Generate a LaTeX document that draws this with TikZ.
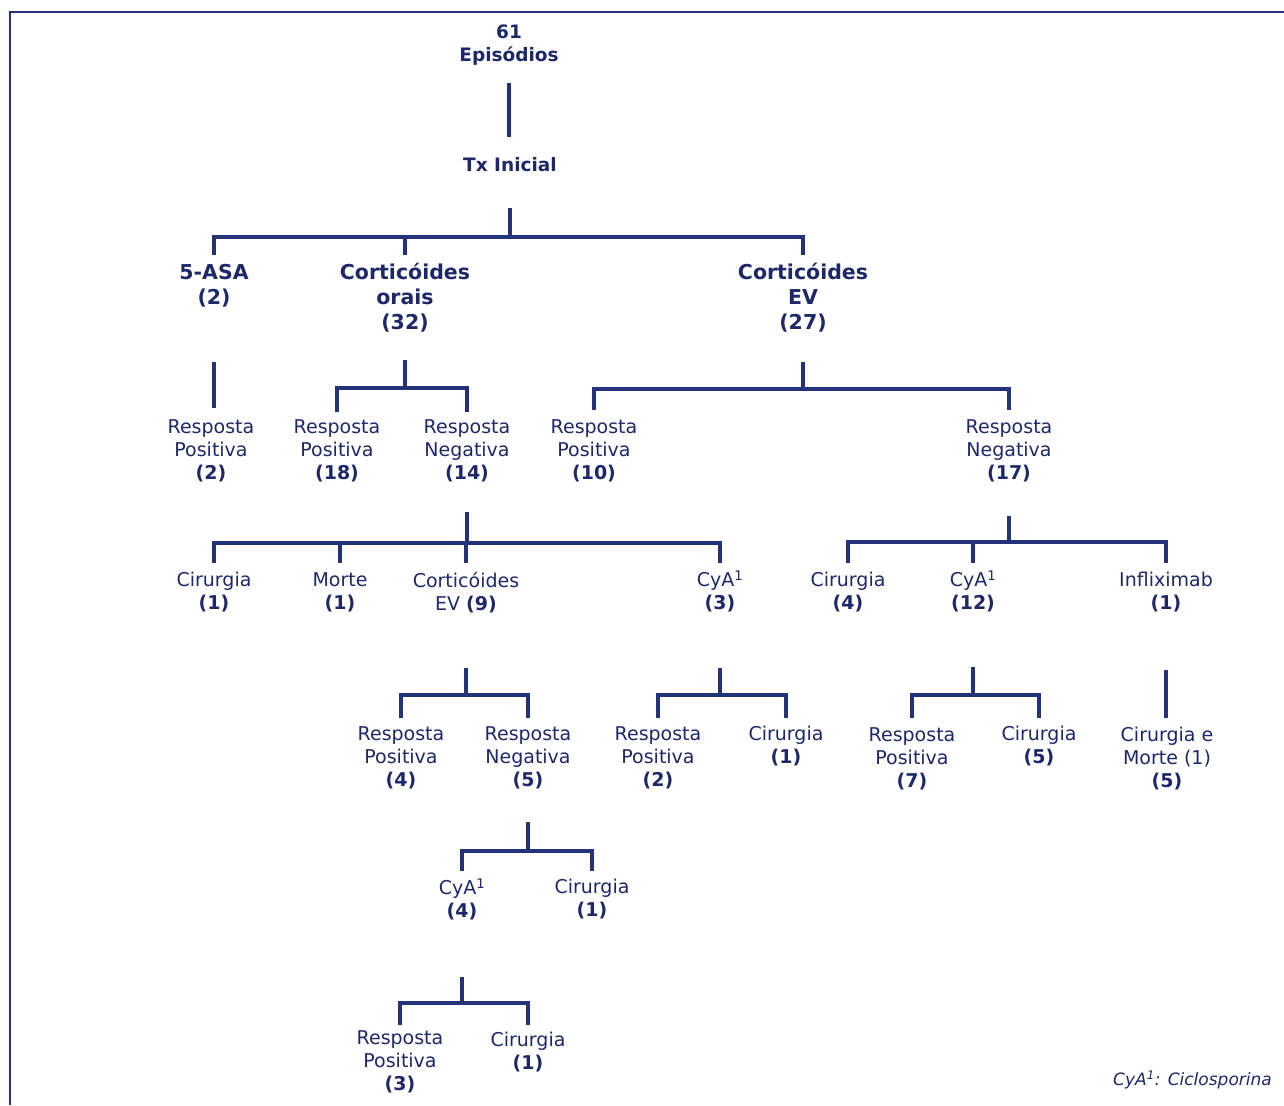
\documentclass[tikz,border=0pt]{standalone}
\usepackage{fontspec}
\setmainfont{DejaVu Sans}
\definecolor{navy}{RGB}{30,40,104}
\definecolor{linec}{RGB}{36,50,122}
\newcommand\mystem[3]{\draw[conn] (#1 |- #2) -- (#1 |- #3);}
\tikzset{
  txt/.style={text=navy, font=\fontsize{19}{23}\selectfont, align=center, inner sep=0pt},
  hd/.style={text=navy, font=\bfseries\fontsize{20.5}{25}\selectfont, align=center, inner sep=0pt},
  hds/.style={text=navy, font=\bfseries\fontsize{18.5}{23}\selectfont, align=center, inner sep=0pt},
  conn/.style={draw=linec, line width=3.6pt, line join=miter},
  frame/.style={draw=linec, line width=2pt}
}
\begin{document}
\begin{tikzpicture}[x=1pt,y=-1pt]
\useasboundingbox[fill=white] (0,0) rectangle (1284,1105);
% frame
\coordinate (fa) at (10,1105);
\coordinate (fb) at (10,12);
\coordinate (fc) at (1284,12);
\draw[frame] (fa) -- (fb) -- (fc);
% level coordinates
\foreach \yy in {83,137,208,237,255,360,362,388,389,408,410,412,512,516,542,543,563,667,668,670,695,718,822,851,871,977,1003,1025}
  \coordinate (y\yy) at (0,\yy);
% nodes
\node[hds] (ep) at (509,45) {61\\Episódios};
\node[hds] (tx) at (510,165) {Tx Inicial};
\node[hd] (asa) at (214,286) {5-ASA\\(2)};
\node[hd] (co) at (405,298) {Corticóides\\orais\\(32)};
\node[hd] (cev) at (803,298) {Corticóides\\EV\\(27)};
\node[txt] (rp2) at (211,451) {Resposta\\Positiva\\\textbf{(2)}};
\node[txt] (rp18) at (337,451) {Resposta\\Positiva\\\textbf{(18)}};
\node[txt] (rn14) at (467,451) {Resposta\\Negativa\\\textbf{(14)}};
\node[txt] (rp10) at (594,451) {Resposta\\Positiva\\\textbf{(10)}};
\node[txt] (rn17) at (1009,451) {Resposta\\Negativa\\\textbf{(17)}};
\node[txt] (cir1) at (214,592.5) {Cirurgia\\\textbf{(1)}};
\node[txt] (mor1) at (340,592.5) {Morte\\\textbf{(1)}};
\node[txt] (cev9) at (466,592.5) {Corticóides\\EV \textbf{(9)}};
\node[txt] (cya3) at (720,592.5) {CyA\smash{\textsuperscript{1}}\\\textbf{(3)}};
\node[txt] (cir4) at (848,592.5) {Cirurgia\\\textbf{(4)}};
\node[txt] (cya12) at (973,592.5) {CyA\smash{\textsuperscript{1}}\\\textbf{(12)}};
\node[txt] (inf1) at (1166,592.5) {Infliximab\\\textbf{(1)}};
\node[txt] (rp4) at (401,758) {Resposta\\Positiva\\\textbf{(4)}};
\node[txt] (rn5) at (528,758) {Resposta\\Negativa\\\textbf{(5)}};
\node[txt] (rp2b) at (658,758) {Resposta\\Positiva\\\textbf{(2)}};
\node[txt] (cir1b) at (786,746.5) {Cirurgia\\\textbf{(1)}};
\node[txt] (rp7) at (912,759) {Resposta\\Positiva\\\textbf{(7)}};
\node[txt] (cir5) at (1039,746.5) {Cirurgia\\\textbf{(5)}};
\node[txt] (cm5) at (1167,759) {Cirurgia e\\Morte (1)\\\textbf{(5)}};
\node[txt] (cya4) at (462,900) {CyA\smash{\textsuperscript{1}}\\\textbf{(4)}};
\node[txt] (cir1c) at (592,899.5) {Cirurgia\\\textbf{(1)}};
\node[txt] (rp3) at (400,1061.5) {Resposta\\Positiva\\\textbf{(3)}};
\node[txt] (cir1d) at (528,1052.5) {Cirurgia\\\textbf{(1)}};
\node[text=navy, font=\itshape\fontsize{17}{20}\selectfont, anchor=east, inner sep=0pt] (fn) at (1272,1080) {CyA\textsuperscript{1}: Ciclosporina};
% connectors
\mystem{ep}{y83}{y137}
\mystem{tx}{y208}{y237}
\draw[conn] (asa |- y255) -- (asa |- y237) -- (cev |- y237) -- (cev |- y255);
\mystem{co}{y237}{y255}
\mystem{asa}{y362}{y408}
\mystem{co}{y360}{y388}
\draw[conn] (rp18 |- y412) -- (rp18 |- y388) -- (rn14 |- y388) -- (rn14 |- y412);
\mystem{cev}{y362}{y389}
\draw[conn] (rp10 |- y410) -- (rp10 |- y389) -- (rn17 |- y389) -- (rn17 |- y410);
\mystem{rn14}{y512}{y543}
\draw[conn] (cir1 |- y563) -- (cir1 |- y543) -- (cya3 |- y543) -- (cya3 |- y563);
\mystem{mor1}{y543}{y563}
\mystem{cev9}{y543}{y563}
\mystem{rn17}{y516}{y542}
\draw[conn] (cir4 |- y563) -- (cir4 |- y542) -- (inf1 |- y542) -- (inf1 |- y563);
\mystem{cya12}{y542}{y563}
\mystem{cev9}{y668}{y695}
\draw[conn] (rp4 |- y718) -- (rp4 |- y695) -- (rn5 |- y695) -- (rn5 |- y718);
\mystem{cya3}{y668}{y695}
\draw[conn] (rp2b |- y718) -- (rp2b |- y695) -- (cir1b |- y695) -- (cir1b |- y718);
\mystem{cya12}{y667}{y695}
\draw[conn] (rp7 |- y718) -- (rp7 |- y695) -- (cir5 |- y695) -- (cir5 |- y718);
\mystem{inf1}{y670}{y718}
\mystem{rn5}{y822}{y851}
\draw[conn] (cya4 |- y871) -- (cya4 |- y851) -- (cir1c |- y851) -- (cir1c |- y871);
\mystem{cya4}{y977}{y1003}
\draw[conn] (rp3 |- y1025) -- (rp3 |- y1003) -- (cir1d |- y1003) -- (cir1d |- y1025);
\end{tikzpicture}
\end{document}
